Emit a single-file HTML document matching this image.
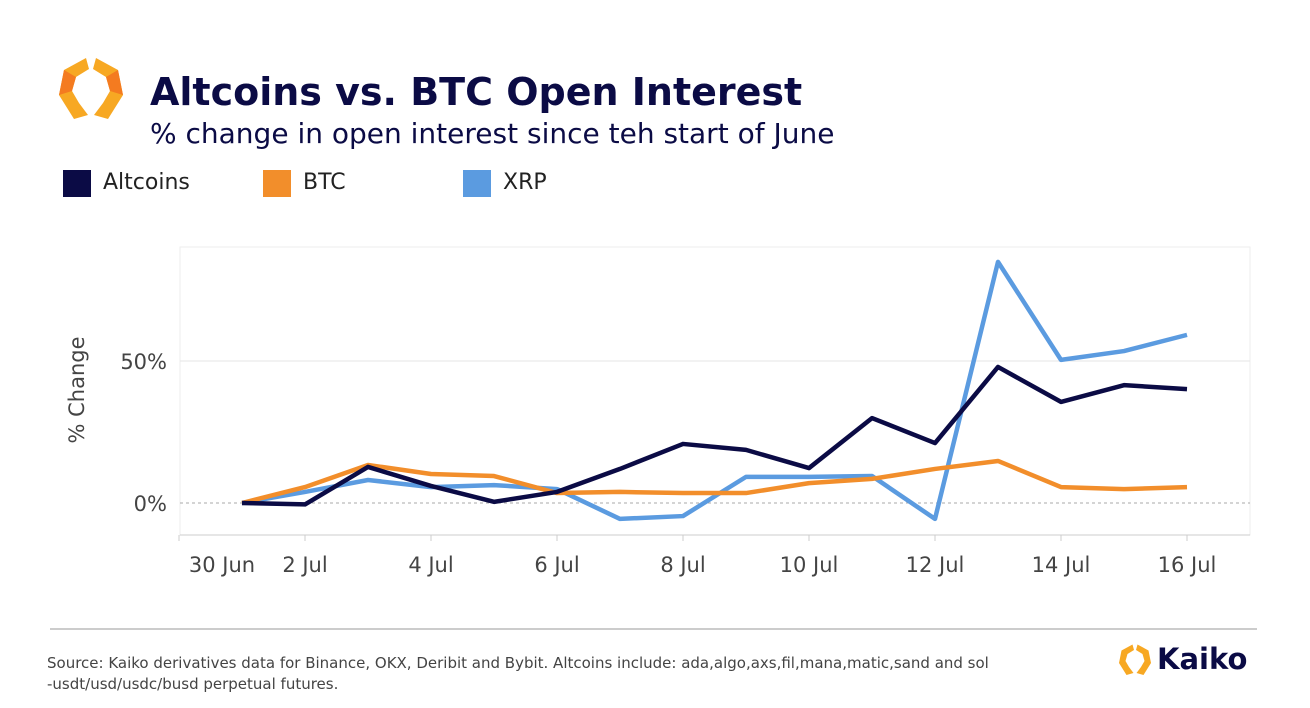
<!DOCTYPE html>
<html><head><meta charset="utf-8"><style>
body{margin:0;width:1310px;height:708px;background:#fff;font-family:"DejaVu Sans","Liberation Sans",sans-serif;overflow:hidden;position:relative}
.t{position:absolute;white-space:nowrap}
</style></head><body>
<svg style="position:absolute;left:55px;top:55px" width="72" height="68" viewBox="0 0 72 68">
<polygon points="31,3 9,15 4,40 19,64 33,60 24,48 17,36 21,22 34,14" fill="#f7a823"/>
<polygon points="41,3 63,15 68,40 53,64 39,60 48,48 55,36 51,22 38,14" fill="#f7a823"/>
<polygon points="9,15 21,22 17,36 4,40" fill="#f47b20"/>
<polygon points="63,15 51,22 55,36 68,40" fill="#f47b20"/>
</svg>
<div class="t" style="left:150px;top:70px;font-size:38px;font-weight:bold;color:#0b0b45">Altcoins vs. BTC Open Interest</div>
<div class="t" style="left:150px;top:117px;font-size:28px;color:#0b0b45">% change in open interest since teh start of June</div>
<div><div style="position:absolute;left:63px;top:170px;width:28px;height:27px;background:#0b0b45"></div><div class="t" style="left:103px;top:170px;font-size:22px;color:#222">Altcoins</div></div>
<div><div style="position:absolute;left:263px;top:170px;width:28px;height:27px;background:#f28e2b"></div><div class="t" style="left:303px;top:170px;font-size:22px;color:#222">BTC</div></div>
<div><div style="position:absolute;left:463px;top:170px;width:28px;height:27px;background:#5b9be0"></div><div class="t" style="left:503px;top:170px;font-size:22px;color:#222">XRP</div></div>
<svg id="c" style="position:absolute;left:0;top:0" width="1310" height="708"></svg>
<div style="position:absolute;left:50px;top:628px;width:1207px;height:2px;background:#ccc"></div>
<div class="t" style="left:47px;top:653px;font-size:15px;line-height:21px;color:#444">Source: Kaiko derivatives data for Binance, OKX, Deribit and Bybit. Altcoins include: ada,algo,axs,fil,mana,matic,sand and sol<br>-usdt/usd/usdc/busd perpetual futures.</div>
<svg style="position:absolute;left:1117px;top:643px" width="36" height="34" viewBox="0 0 72 68">
<polygon points="31,3 9,15 4,40 19,64 33,60 24,48 17,36 21,22 34,14" fill="#f7a823"/>
<polygon points="41,3 63,15 68,40 53,64 39,60 48,48 55,36 51,22 38,14" fill="#f7a823"/>
</svg>
<div class="t" style="left:1157px;top:642px;font-size:29px;font-weight:bold;color:#0b0b45">Kaiko</div>
<script>
const days=[1,2,3,4,5,6,7,8,9,10,11,12,13,14,15,16];
const altcoins=[0,-0.5,12.7,6,0.4,3.9,12,20.8,18.7,12.3,29.9,21.1,47.9,35.6,41.5,40.1];
const btc=[0,5.6,13.4,10.2,9.5,3.5,3.9,3.5,3.5,7,8.5,12,14.8,5.6,4.9,5.6];
const xrp=[0,3.9,8.1,5.6,6.3,4.9,-5.6,-4.6,9.2,9.2,9.5,-5.6,84.9,50.4,53.5,59.2];
const xTicks=[0,2,4,6,8,10,12,14,16];
const xTickLabels=["30 Jun","2 Jul","4 Jul","6 Jul","8 Jul","10 Jul","12 Jul","14 Jul","16 Jul"];
const yTicks=[0,50];
const yTickLabels=["0%","50%"];
const ns="http://www.w3.org/2000/svg",svg=document.getElementById('c');
const X=d=>179+63*d, Y=v=>503-2.84*v;
function mk(t,a,p){const e=document.createElementNS(ns,t);for(const k in a)e.setAttribute(k,a[k]);(p||svg).appendChild(e);return e;}
const frame=mk('rect',{x:180,y:247,width:1070,height:288,fill:'none',stroke:'#eee'});


mk('line',{x1:180,x2:1250,y1:535,y2:535,stroke:'#ccc'});
yTicks.forEach((v,i)=>{
 const g=mk('line',{x1:180,x2:1250,y1:Y(v),y2:Y(v),stroke:v==0?'#aaa':'#e6e6e6','stroke-dasharray':v==0?'3,3':''});
 
 
 const t=mk('text',{x:167,y:Y(v)+8,'text-anchor':'end','font-size':21,fill:'#444','font-family':'DejaVu Sans'});t.textContent=yTickLabels[i];
 
 
});
xTicks.forEach((d,i)=>{
 mk('line',{x1:X(d),x2:X(d),y1:535,y2:541,stroke:'#ccc'});
 const t=mk('text',{x:i==0?222:X(d),y:572,'text-anchor':'middle','font-size':21,fill:'#444','font-family':'DejaVu Sans'});t.textContent=xTickLabels[i];
 
 
});
const yt=mk('text',{x:0,y:0,'text-anchor':'middle','font-size':21,fill:'#444','font-family':'DejaVu Sans',transform:'translate(84,390) rotate(-90)'});yt.textContent='% Change';


[[xrp,'#5b9be0','xrp-line'],[btc,'#f28e2b','btc-line'],[altcoins,'#0b0b45','altcoins-line']].forEach(([s,c,n])=>{
 const p=mk('polyline',{points:s.map((v,i)=>X(days[i])+','+Y(v)).join(' '),fill:'none',stroke:c,'stroke-width':4.5,'stroke-linejoin':'round'});
 
 
});
</script>
</body></html>
